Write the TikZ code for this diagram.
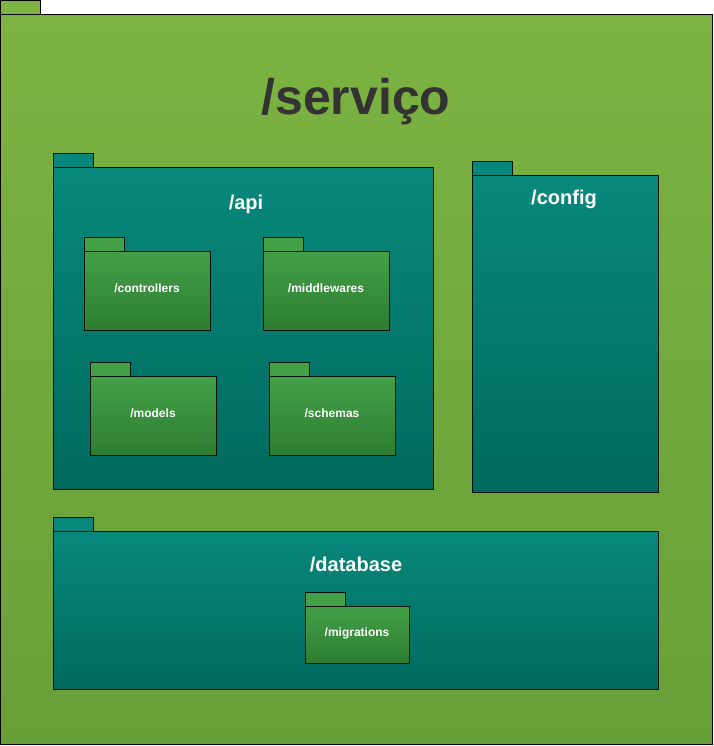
\documentclass[tikz,border=0pt]{standalone}
\usepackage{fontspec}
\setmainfont{Liberation Sans}
\definecolor{ogTop}{HTML}{7CB342}
\definecolor{ogBot}{HTML}{689F38}
\definecolor{tlTop}{HTML}{08887B}
\definecolor{tlBot}{HTML}{006A5E}
\definecolor{grTop}{HTML}{43A047}
\definecolor{grBot}{HTML}{2E7D32}
\definecolor{titlec}{HTML}{333333}
\tikzset{
  box/.style={draw=black, line width=1pt, inner sep=0pt, outer sep=0pt, rectangle},
  outerpkg/.style={box, top color=ogTop, bottom color=ogBot},
  tealpkg/.style={box, top color=tlTop, bottom color=tlBot, draw=black!85!tlBot},
  greenpkg/.style={box, top color=grTop, bottom color=grBot, draw=black!85!grBot},
  tabo/.style={box, fill=ogTop, minimum width=40pt, minimum height=14pt, anchor=south west},
  tabt/.style={box, fill=tlTop, draw=black!85!tlBot, minimum width=40pt, minimum height=14pt, anchor=south west},
  tabg/.style={box, fill=grTop, draw=black!85!grBot, minimum width=40pt, minimum height=14pt, anchor=south west},
  bigtitle/.style={text=titlec, font=\bfseries\fontsize{50}{58}\selectfont},
  midtitle/.style={text=white, font=\bfseries\fontsize{20}{24}\selectfont},
  smalltitle/.style={text=white, font=\bfseries\fontsize{12}{14}\selectfont},
}
\newcommand{\mkbody}[7]{% style, name, x, y, w, h, tabstyle
  \node[#1, anchor=north west, minimum width=#5pt, minimum height=#6pt] (#2) at (#3,#4) {};
  \node[#7] (#2tab) at (#2.north west) {};
}
\begin{document}
\begin{tikzpicture}[x=1pt,y=-1pt]
\useasboundingbox (0,0) rectangle (713,746);
% outer
\mkbody{outerpkg}{servico}{0.5}{14.5}{712}{730}{tabo}
\node[bigtitle] (servicot) at (356,102) {/serviço};
% api
\mkbody{tealpkg}{api}{53.5}{167.5}{380}{322}{tabt}
\node[midtitle] (apit) at (246,204) {/api};
\mkbody{greenpkg}{controllers}{84.5}{251.5}{126}{79}{tabg}
\node[smalltitle] (controllerst) at (147,288) {/controllers};
\mkbody{greenpkg}{middlewares}{263.5}{251.5}{126}{79}{tabg}
\node[smalltitle] (middlewarest) at (326,288) {/middlewares};
\mkbody{greenpkg}{models}{90.5}{376.5}{126}{79}{tabg}
\node[smalltitle] (modelst) at (153,413) {/models};
\mkbody{greenpkg}{schemas}{269.5}{376.5}{126}{79}{tabg}
\node[smalltitle] (schemast) at (332,413) {/schemas};
% config
\mkbody{tealpkg}{config}{472.5}{175.5}{186}{317}{tabt}
\node[midtitle] (configt) at (564,199) {/config};
% database
\mkbody{tealpkg}{database}{53.5}{531.5}{605}{158}{tabt}
\node[midtitle] (databaset) at (356,564) {/database};
\mkbody{greenpkg}{migrations}{305.5}{606.5}{104}{57}{tabg}
\node[smalltitle] (migrationst) at (357,633) {/migrations};
\end{tikzpicture}
\end{document}
